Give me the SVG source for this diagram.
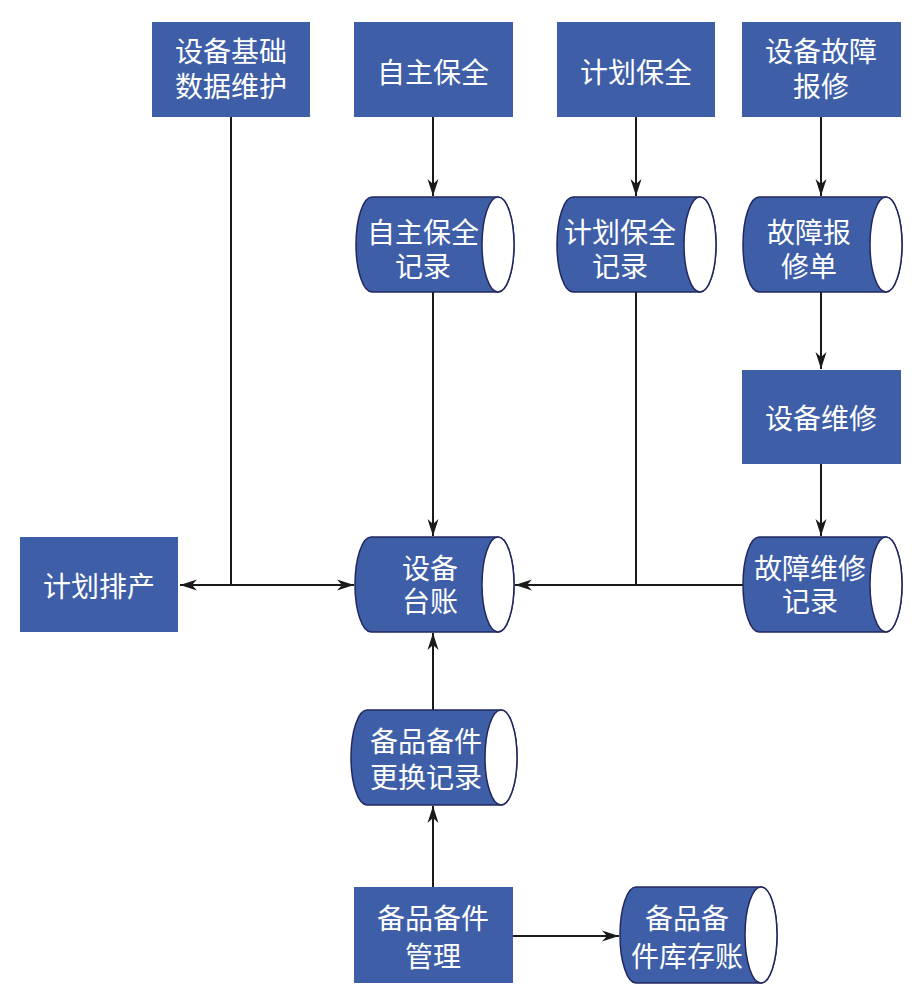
<svg xmlns="http://www.w3.org/2000/svg" width="918" height="996" viewBox="0 0 918 996">
<style>
.box{fill:#3E5EA8;}
.cyl{fill:#3E5EA8;stroke:#22285E;stroke-width:1.5;}
.cap{fill:#ffffff;stroke:#22285E;stroke-width:1.5;}
.t{font-family:"Noto Sans CJK SC","Noto Sans",sans-serif;font-size:28px;fill:#ffffff;text-anchor:middle;dominant-baseline:central;}
.ln{stroke:#1a1a1a;stroke-width:2;fill:none;}
</style>
<defs>
<marker id="ah" markerWidth="20" markerHeight="12" refX="17" refY="6" orient="auto-start-reverse" markerUnits="userSpaceOnUse">
<path d="M0,0.5 L17,6 L0,11.5 L5,6 Z" fill="#1a1a1a"/>
</marker>
</defs>
<rect width="918" height="996" fill="#ffffff"/>
<g id="connectors">
<line class="ln" x1="231" y1="117" x2="231" y2="585"/>
<line class="ln" x1="180" y1="585" x2="354" y2="585" marker-start="url(#ah)" marker-end="url(#ah)"/>
<line class="ln" x1="433" y1="117" x2="433" y2="196" marker-end="url(#ah)"/>
<line class="ln" x1="433" y1="292" x2="433" y2="536" marker-end="url(#ah)"/>
<line class="ln" x1="636" y1="117" x2="636" y2="196" marker-end="url(#ah)"/>
<line class="ln" x1="636" y1="292" x2="636" y2="585"/>
<line class="ln" x1="743" y1="585" x2="515" y2="585" marker-end="url(#ah)"/>
<line class="ln" x1="821" y1="117" x2="821" y2="196" marker-end="url(#ah)"/>
<line class="ln" x1="821" y1="292" x2="821" y2="369" marker-end="url(#ah)"/>
<line class="ln" x1="821" y1="464" x2="821" y2="536" marker-end="url(#ah)"/>
<line class="ln" x1="433" y1="710" x2="433" y2="633" marker-end="url(#ah)"/>
<line class="ln" x1="433" y1="887" x2="433" y2="806" marker-end="url(#ah)"/>
<line class="ln" x1="513" y1="936" x2="619" y2="936" marker-end="url(#ah)"/>
</g>
<g id="n_basic">
<rect class="box" x="152" y="22" width="158" height="95"/>
<text class="t"><tspan x="231" y="50">设备基础</tspan><tspan x="231" y="85">数据维护</tspan></text>
</g>
<g id="n_zzbq">
<rect class="box" x="354" y="22" width="159" height="95"/>
<text class="t" x="433" y="71">自主保全</text>
</g>
<g id="n_jhbq">
<rect class="box" x="557" y="22" width="158" height="95"/>
<text class="t" x="636" y="71">计划保全</text>
</g>
<g id="n_gzbx">
<rect class="box" x="742" y="22" width="159" height="95"/>
<text class="t"><tspan x="821" y="50">设备故障</tspan><tspan x="821" y="85">报修</tspan></text>
</g>
<g id="n_zzbq_rec">
<path class="cyl" d="M372,197 L498,197 A16,47.5 0 0 1 498,292 L372,292 A16,47.5 0 0 1 372,197 Z"/>
<ellipse class="cap" cx="498" cy="244.5" rx="16" ry="47.5"/>
<text class="t"><tspan x="423" y="231">自主保全</tspan><tspan x="423" y="265">记录</tspan></text>
</g>
<g id="n_jhbq_rec">
<path class="cyl" d="M573,197 L700,197 A16,47.5 0 0 1 700,292 L573,292 A16,47.5 0 0 1 573,197 Z"/>
<ellipse class="cap" cx="700" cy="244.5" rx="16" ry="47.5"/>
<text class="t"><tspan x="620" y="231">计划保全</tspan><tspan x="620" y="265">记录</tspan></text>
</g>
<g id="n_gzbxd">
<path class="cyl" d="M759,197 L886,197 A16,47.5 0 0 1 886,292 L759,292 A16,47.5 0 0 1 759,197 Z"/>
<ellipse class="cap" cx="886" cy="244.5" rx="16" ry="47.5"/>
<text class="t"><tspan x="809" y="231">故障报</tspan><tspan x="809" y="265">修单</tspan></text>
</g>
<g id="n_sbwx">
<rect class="box" x="742" y="370" width="159" height="94"/>
<text class="t" x="821" y="417">设备维修</text>
</g>
<g id="n_jhpc">
<rect class="box" x="20" y="537" width="158" height="95"/>
<text class="t" x="99" y="585">计划排产</text>
</g>
<g id="n_sbtz">
<path class="cyl" d="M371,537 L498,537 A16,47.5 0 0 1 498,632 L371,632 A16,47.5 0 0 1 371,537 Z"/>
<ellipse class="cap" cx="498" cy="584.5" rx="16" ry="47.5"/>
<text class="t"><tspan x="430" y="567">设备</tspan><tspan x="430" y="600">台账</tspan></text>
</g>
<g id="n_gzwx_rec">
<path class="cyl" d="M759,537 L886,537 A16,47.5 0 0 1 886,632 L759,632 A16,47.5 0 0 1 759,537 Z"/>
<ellipse class="cap" cx="886" cy="584.5" rx="16" ry="47.5"/>
<text class="t"><tspan x="810" y="567">故障维修</tspan><tspan x="810" y="600">记录</tspan></text>
</g>
<g id="n_bpbj_rec">
<path class="cyl" d="M367,710 L501,710 A16,47.5 0 0 1 501,805 L367,805 A16,47.5 0 0 1 367,710 Z"/>
<ellipse class="cap" cx="501" cy="757.5" rx="16" ry="47.5"/>
<text class="t"><tspan x="426" y="740">备品备件</tspan><tspan x="426" y="776">更换记录</tspan></text>
</g>
<g id="n_bpbj_mgmt">
<rect class="box" x="354" y="887" width="159" height="96"/>
<text class="t"><tspan x="433" y="917">备品备件</tspan><tspan x="433" y="955">管理</tspan></text>
</g>
<g id="n_bpbj_stock">
<path class="cyl" d="M636,887 L761,887 A16,48 0 0 1 761,983 L636,983 A16,48 0 0 1 636,887 Z"/>
<ellipse class="cap" cx="761" cy="935" rx="16" ry="48"/>
<text class="t"><tspan x="687" y="917">备品备</tspan><tspan x="687" y="955">件库存账</tspan></text>
</g>
</svg>
